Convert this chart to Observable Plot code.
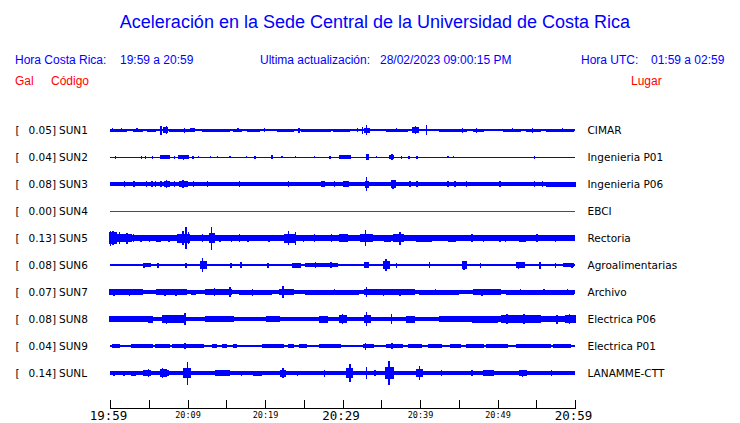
<!DOCTYPE html>
<html>
<head>
<meta charset="utf-8">
<script src="https://cdn.jsdelivr.net/npm/d3@7"></script>
<script src="https://cdn.jsdelivr.net/npm/@observablehq/plot@0.6"></script>
<style>
  html, body { margin: 0; padding: 0; background: #fff; }
  #wrap { position: relative; width: 740px; height: 423px; overflow: hidden; }
  #head { position: relative; width: 740px; height: 100px; font-family: "Liberation Sans", Arial, sans-serif; }
  #head span { position: absolute; line-height: 1; white-space: pre; }
  .t { font-size: 18px; color: #0000ff; }
  .h { font-size: 12px; color: #0000ff; }
  .r { font-size: 12px; color: #ff0000; }
  #chart svg { display: block; }
</style>
</head>
<body>
<div id="wrap">
  <div id="head">
    <span class="t" style="left:0;width:750px;text-align:center;top:13px">Aceleración en la Sede Central de la Universidad de Costa Rica</span>
    <span class="h" style="left:15px;top:54px">Hora Costa Rica:</span>
    <span class="h" style="left:120px;top:54px">19:59 a 20:59</span>
    <span class="h" style="left:260px;top:54px">Ultima actualización:</span>
    <span class="h" style="left:380px;top:54px">28/02/2023 09:00:15 PM</span>
    <span class="h" style="left:581px;top:54px">Hora UTC:</span>
    <span class="h" style="left:651px;top:54px">01:59 a 02:59</span>
    <span class="r" style="left:15px;top:75px">Gal</span>
    <span class="r" style="left:51px;top:75px">Código</span>
    <span class="r" style="left:631px;top:75px">Lugar</span>
  </div>
  <div id="chart"></div>
</div>
<script>
// ---- data ----
const codes  = ["SUN1","SUN2","SUN3","SUN4","SUN5","SUN6","SUN7","SUN8","SUN9","SUNL"];
const places = ["CIMAR","Ingenieria P01","Ingenieria P06","EBCI","Rectoria","Agroalimentarias","Archivo","Electrica P06","Electrica P01","LANAMME-CTT"];
const peaks  = [0.05, 0.04, 0.08, 0.00, 0.13, 0.08, 0.07, 0.08, 0.04, 0.14]; // Gal
// background noise level of each trace (relative display amplitude)
const baseAmp = [0.7, 0.5, 2.0, 0.5, 2.7, 1.4, 1.9, 2.3, 0.6, 1.8];

// minutes after 19:59 : [start, end, amplitude]
const sun1 = [[0.1,2.1,1.5],[3.1,4.2,1.5],[4.9,5.9,1.5],[7.7,10.3,1.5],[12,15.4,1.5],[15.9,16.9,1.5],[17.8,19.3,1.5],[21.7,23.6,1.5],[24.7,28.4,1.5],[28.8,30.9,1.5],[35.7,38.3,1.5],[42.6,46,1.5],[46.9,48.2,1.5],[50.8,52.9,1.5],[53.8,55.5,1.5],[56.4,59.8,1.5],
  [6.6,6.6,4.5],[6.9,7.4,2.6],[7.3,7.3,3.8],[10.4,10.9,2.3],[24.4,24.4,2.5],[32.6,32.6,3.5],[33.1,33.1,5],[32.9,33.4,2.5],[39.1,39.8,3.2],[39.4,39.4,4],[40.8,40.8,5],[0.3,0.3,2],[1.5,1.5,2],[3.5,3.5,2],[9.6,9.6,2.5],[16.5,16.5,2],[19.9,19.9,2],[31.9,31.9,2],[37,37,2],[45.5,45.5,2.5],[47.3,47.3,2.5],[51.9,51.9,2],[54.5,54.5,2.5],[58.4,58.4,2]];
const sun2 = [[0.7,0.7,1.5],[4.1,4.1,1.5],[4.6,4.6,1.5],[5.5,5.5,1.5],[6.5,7.7,1.8],[8.3,8.3,1.5],[8.8,10.1,2],[9.5,9.5,2.5],[10.7,10.7,1.5],[11.4,11.4,1.3],[13,13,1.2],[13.9,13.9,1.2],[15.5,15.5,1.2],[17.6,17.6,1.2],[18.7,18.7,1.5],[20.9,20.9,1.8],[22.2,22.2,1.2],[23.9,23.9,1.2],[26.4,26.4,1.2],[28.4,28.4,1.5],[29.7,31,1.8],[33.1,33.3,3],[34.4,34.4,1.2],[36.1,36.5,2],[36.4,36.4,3.2],[37.6,37.6,1.5],[38.5,38.6,1.5],[39.6,39.7,1.5],[43.6,43.6,1.2],[44.3,44.3,1.2],[54.8,54.8,1.5]];
const sun3 = [[56.4,60,2.5],[1.9,1.9,3],[3.1,3.1,3],[4.7,4.7,3],[5.4,5.4,3],[5.9,5.9,3],[6.6,6.6,3],[7,7.7,3.2],[7.3,7.3,3.8],[8.3,8.3,3],[9,10,3.3],[9.4,9.4,4.3],[10.8,10.8,3],[12.6,12.6,3],[16.7,16.7,3],[23,23,3],[27.3,27.7,3],[29,29,3],[30.1,30.7,3],[33.1,33.1,6.7],[33,33.3,3.5],[36.4,36.8,3.8],[36.5,36.5,4.5],[38.7,38.7,3],[39.6,39.7,3.2],[43.6,43.6,3],[44.5,44.5,3],[46,46,3],[50.3,50.3,3],[54.8,54.8,3],[55.8,55.8,3]];
const sun4 = [];
const sun5 = [[0,0.8,6],[0.1,0.1,7.5],[0.4,0.4,7],[0.8,2.7,4],[1.2,1.2,6],[2.2,2.2,5.5],[3,3,4],[4,4,3.5],[5.1,5.1,3.5],[6,6.5,3.5],[7.6,7.6,3.5],[8.7,10.2,4.5],[9.4,9.4,7],[9.8,9.8,11],[10.1,10.1,6],[11.9,11.9,4],[12.8,13.5,5],[13.1,13.1,11.5],[14.2,14.2,3.5],[15.7,15.7,3.5],[16.7,16.7,4],[17.8,17.8,3.5],[20.5,20.5,3.5],[22.6,23.9,4.5],[23,23,7],[23.9,23.9,6.5],[25,25,3.5],[26.4,26.4,4],[28.6,28.6,4],[29.7,30.6,4],[32.3,33.9,3.8],[33.0,33.0,8],[35.5,36.2,3.5],[36.6,37.8,4],[37.4,37.4,6.5],[39.6,41.4,3.5],[43.7,44.6,3.5],[46.7,46.7,4],[48.2,48.2,3.5],[50.3,50.3,3.5],[51,51,3.5],[52.8,53.6,3.5],[55.1,55.1,3.8],[54.5,59.8,3.2],[57.5,57.5,3.5]];
const sun6 = [[4.3,5.2,2.3],[4.4,4.4,2.5],[6.2,6.2,2.5],[9.8,9.8,2.5],[11.7,12.4,4],[11.96,11.96,6.7],[15.6,15.6,2.5],[16.9,16.9,3],[20.4,20.4,2.5],[23.6,24.5,2.5],[25.3,29.3,2.3],[26.5,26.5,3],[28.5,28.5,3],[32.9,33.3,3],[35.3,36.1,4],[35.6,35.6,5.8],[37,37,2.5],[41.2,41.2,3],[45.5,46,3.8],[45.7,45.7,4.5],[47.8,47.8,2.5],[52.5,53.4,3],[52.7,52.7,3.5],[55.5,55.5,3.5],[57.5,57.5,2.5],[58.5,59.8,2.3],[59.6,59.6,2.5]];
const sun7 = [[0,4.2,2.7],[0.5,0.5,3.5],[2.5,2.5,3.5],[6,9.8,2.7],[7.1,7.1,3.5],[8.5,8.5,3.5],[10.5,11,2.5],[12.4,15.6,2.8],[13.5,13.5,3.8],[15.5,15.5,5],[16.7,20.8,2.5],[18.4,18.4,3.5],[21.9,23.6,2.8],[22.3,22.3,6],[25.3,32,2.5],[29,29,3.2],[32.9,34,3.2],[33.1,33.1,5],[34,39.2,2.6],[35.3,35.3,3.5],[37.4,37.4,3.5],[40,45,2.5],[42,42,3.2],[46.9,50.3,2.8],[48,48,3.5],[51.2,59.8,2.5],[53,53,3.2],[56,56,3.2],[59,59,3.2]];
const sun8 = [[0,5,3],[5,5.5,3.5],[6.8,9.4,3.6],[7.3,7.3,4.5],[9.7,9.7,6],[12.4,15.9,3],[20.2,21.9,3],[27.1,28,3.5],[29.6,30.5,4],[30,30,4.8],[33.1,33.1,7],[32.8,33.6,4],[36.3,36.3,5],[38.3,39.2,3.5],[42.6,60,3.1],[46.8,50,3.5],[50.5,55.5,3.8],[51.2,51.2,5],[53.4,53.4,5],[57.7,57.7,4.5],[58.8,60,4],[59.3,59.3,4.8]];
const sun9 = [[0.3,1.2,1.6],[2.8,3.6,1.6],[3.8,5.5,1.6],[5.9,7.7,1.6],[8.1,12,1.6],[13.3,13.7,1.6],[14.6,15,1.6],[15.9,16.3,1.6],[19.7,22.3,1.6],[23,23.6,1.6],[24.5,25.3,1.6],[27.1,29.7,1.6],[32.7,34,1.6],[35.7,37.4,1.6],[38.5,40.2,1.6],[41.1,42.8,1.6],[43.9,45.2,1.6],[46,48.2,1.6],[48.6,51.2,1.6],[52.5,56.8,1.6],[57.2,59.4,1.6],
  [7.5,7.5,2.3],[9.7,9.7,2.8],[24.6,24.6,2.3],[33.0,33.0,3.5],[36.4,36.4,2.8],[37.7,37.7,2.3]];
const sunL = [[0.5,0.5,2.5],[1.8,1.8,2.5],[2.8,3.3,2.5],[4.3,5.2,3.2],[5,5,4],[6.5,7.2,4],[6.8,6.8,5],[7.5,7.5,3],[9.5,10.3,5],[10.0,10.0,11.5],[10.3,10.3,4],[13.7,15.4,3],[17,17,2.5],[18.5,19.5,2.5],[22.3,22.3,5],[22,22.6,3.5],[24.2,24.2,2.5],[27.7,27.7,3.5],[30.5,31.3,5],[30.97,30.97,8.8],[33.1,33.1,6],[34.2,34.2,3],[35.6,36.5,6],[36.0,36.0,12.3],[39.6,40.3,4],[39.9,39.9,6.7],[42.8,42.8,3],[46.7,46.7,3],[48.2,49.5,3],[52.9,53.7,3],[53.2,53.2,3.5],[57,57,3]];

const traces = [sun1, sun2, sun3, sun4, sun5, sun6, sun7, sun8, sun9, sunL];
const timeDomain  = [0, 60];                       // minutes after 19:59
const tickMinutes = [0,5,10,15,20,25,30,35,40,45,50,55,60];
const labelMinutes = [0,10,20,30,40,50,60];
const tickLabels  = ["19:59","20:09","20:19","20:29","20:39","20:49","20:59"];

// ---- layout / drawing ----
const rowStep = 27;  // display units between successive trace baselines
const blue = "#0000ff", red = "#ff0000";
const colorOf = i => peaks[i] === 0 ? red : blue;

const rows = codes.map((c, i) => ({i, code: c, place: places[i], peak: peaks[i], base: baseAmp[i]}));
const events = traces.flatMap((arr, i) => arr.map(([t0, t1, a]) => ({i, t0, t1, a})));
const labels = labelMinutes.map((m, k) => ({m, text: tickLabels[k], major: k % 3 === 0}));

const plot = Plot.plot({
  width: 740,
  height: 323,
  marginLeft: 110,
  marginRight: 165,
  marginTop: 0,
  marginBottom: 14,
  x: {domain: timeDomain, axis: null},
  y: {domain: [0, 9 * rowStep], range: [30, 273], axis: null},
  style: {fontFamily: "DejaVu Sans", fontSize: "10.5px", color: "#000", overflow: "visible"},
  marks: [
    Plot.rect(rows, {x1: () => timeDomain[0], x2: () => timeDomain[1],
      y1: d => d.i * rowStep - d.base, y2: d => d.i * rowStep + d.base,
      fill: d => colorOf(d.i), shapeRendering: "crispEdges"}),
    Plot.rect(events, {x1: "t0", x2: "t1",
      y1: d => d.i * rowStep - d.a, y2: d => d.i * rowStep + d.a,
      insetLeft: -0.7, insetRight: -0.7,
      fill: d => colorOf(d.i), shapeRendering: "crispEdges"}),
    Plot.text(rows, {y: d => d.i * rowStep, text: () => "[", frameAnchor: "left", dx: -95, textAnchor: "start"}),
    Plot.text(rows, {y: d => d.i * rowStep, text: d => d.peak.toFixed(2) + "]", frameAnchor: "left", dx: -54.5, textAnchor: "end"}),
    Plot.text(rows, {y: d => d.i * rowStep, text: "code", frameAnchor: "left", dx: -51.5, textAnchor: "start"}),
    Plot.text(rows, {y: d => d.i * rowStep, text: "place", frameAnchor: "right", dx: 12, textAnchor: "start"}),
    Plot.rect([0], {x1: () => timeDomain[0], x2: () => timeDomain[1], insetTop: 308, fill: "#000", shapeRendering: "crispEdges"}),
    Plot.ruleX(tickMinutes, {x: d => d, insetTop: 300, stroke: "#000", shapeRendering: "crispEdges"}),
    Plot.text(labels.filter(d => d.major), {x: "m", text: "text", frameAnchor: "bottom", lineAnchor: "top", dy: 2, dx: -2, fontFamily: "DejaVu Sans Mono", fontSize: 12.5}),
    Plot.text(labels.filter(d => !d.major), {x: "m", text: "text", frameAnchor: "bottom", lineAnchor: "top", dy: 2.5, fontFamily: "DejaVu Sans Mono", fontSize: 8.5})
  ]
});
document.getElementById("chart").appendChild(plot);
</script>
</body>
</html>
